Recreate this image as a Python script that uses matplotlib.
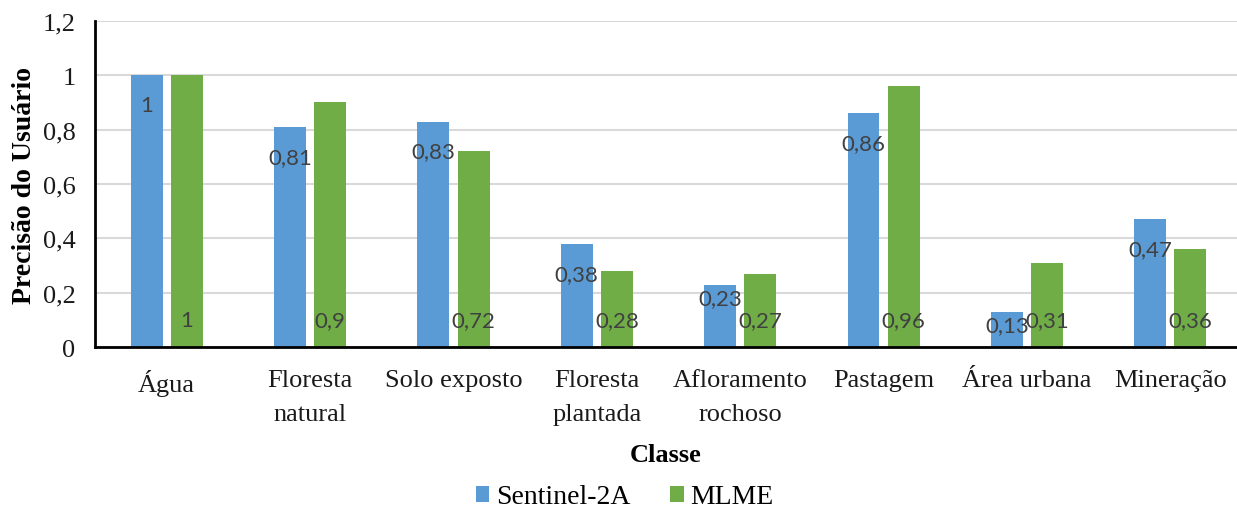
import matplotlib.pyplot as plt
import numpy as np

# dados
classes = ['Água', 'Floresta\nnatural', 'Solo exposto', 'Floresta\nplantada',
           'Afloramento\nrochoso', 'Pastagem', 'Área urbana', 'Mineração']
sentinel = [1, 0.81, 0.83, 0.38, 0.23, 0.86, 0.13, 0.47]
mlme = [1, 0.9, 0.72, 0.28, 0.27, 0.96, 0.31, 0.36]
yticks = [0, 0.2, 0.4, 0.6, 0.8, 1.0, 1.2]

blue = '#5b9bd5'
green = '#70ad47'
serif = 'Liberation Serif'


def fmt(v):
    return ('%g' % v).replace('.', ',')


def main():
    fig = plt.figure(figsize=(12.37, 5.10), dpi=100)
    ax = fig.add_axes([0.0768, 0.3176, 0.9232, 0.6393])

    x = np.arange(len(classes))
    w = 0.223
    off = 0.14
    ax.bar(x - off, sentinel, w, color=blue, label='Sentinel-2A', zorder=2)
    ax.bar(x + off, mlme, w, color=green, label='MLME', zorder=2)

    # rotulos dos valores
    for i, v in enumerate(sentinel):
        y = max(v - 0.11, min(v - 0.05, 0.18))
        ax.text(i - off, y, fmt(v), ha='center', va='center', fontsize=16,
                color='#404040', family='Lato', zorder=3)
    for i, v in enumerate(mlme):
        ax.text(i + off, 0.10, fmt(v), ha='center', va='center', fontsize=16,
                color='#404040', family='Lato', zorder=3)

    ax.set_xlim(-0.5, 7.465)
    ax.set_ylim(0, 1.2)
    ax.set_yticks(yticks)
    ax.set_yticklabels([fmt(t) for t in yticks], fontsize=19, family=serif,
                       color='#1a1a1a')
    ax.set_xticks(x)
    ax.set_xticklabels(classes, fontsize=19, family=serif, color='#1a1a1a',
                       linespacing=1.7)
    ax.tick_params(axis='x', length=0, pad=16)
    ax.tick_params(axis='y', length=0, pad=14)

    ax.grid(axis='y', color='#d9d9d9', linewidth=1.5, zorder=0)
    for s in ['top', 'right']:
        ax.spines[s].set_visible(False)
    ax.spines['left'].set_linewidth(2)
    ax.spines['bottom'].set_linewidth(2)
    ax.spines['bottom'].set_zorder(4)

    ax.set_ylabel('Precisão do Usuário', fontsize=20, family=serif,
                  fontweight='bold', labelpad=4)
    ax.set_xlabel('Classe', fontsize=19, family=serif, fontweight='bold',
                  labelpad=13)

    fig.legend(loc='lower center', bbox_to_anchor=(0.505, -0.05), ncol=2,
               frameon=False, prop={'family': serif, 'size': 20},
               handlelength=0.5, handleheight=0.5, handletextpad=0.25,
               columnspacing=1.4)

    fig.savefig('out.png', dpi=100)


main()
